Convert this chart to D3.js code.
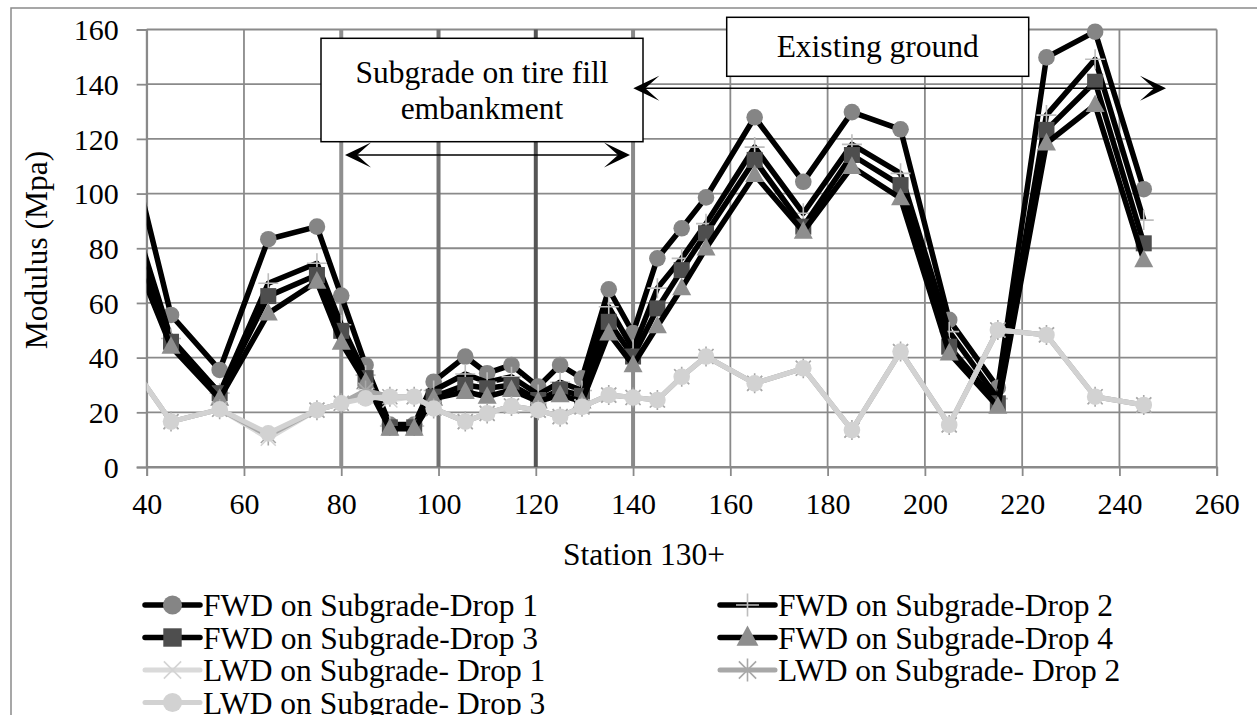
<!DOCTYPE html>
<html>
<head>
<meta charset="utf-8">
<script src="https://cdn.jsdelivr.net/npm/d3@7"></script>
<style>
  html, body { margin: 0; padding: 0; background: #fff; }
  svg { display: block; font-family: "Liberation Serif", "Times New Roman", serif; }
  svg text { font-family: "Liberation Serif", "Times New Roman", serif; }
</style>
</head>
<body>
<svg id="chart" width="1257" height="715"></svg>
<script>
// ---------- DATA ----------
const stations = [35, 45, 55, 65, 75, 80, 85, 90, 95, 99, 105.5, 110, 115, 120.5, 125, 129.5, 135, 140, 145, 150, 155, 165, 175, 185, 195, 205, 215, 225, 235, 245];
const fwdDrop1 = [128, 55.6, 35.5, 83.3, 87.9, 62.7, 37.3, 15.5, 15.5, 31.2, 40.4, 34.3, 37.3, 29.4, 37.3, 32.4, 65, 49, 76.3, 87.3, 98.6, 127.9, 104.3, 129.8, 123.5, 53.8, 29, 149.8, 159.2, 101.6];
const fwdDrop2 = [104, 47, 27, 67.2, 74.5, 52, 33.6, 15, 15, 28, 34, 31, 33, 26.5, 31, 28, 58.6, 43, 65.4, 76.3, 89, 117, 92.8, 118, 107.4, 49.5, 25, 128.7, 149.1, 90.3];
const fwdDrop3 = [94, 45.8, 27, 62.5, 70.2, 49.8, 32.5, 14.5, 14.5, 25.7, 30, 28.8, 30, 24.5, 28.2, 26, 53.1, 40.4, 58, 72, 85.5, 112.3, 87.9, 114.1, 103.1, 44, 23.3, 123.3, 140.9, 81.8];
const fwdDrop4 = [88, 44, 25, 56.2, 67.8, 45.5, 31, 14, 14, 25, 27.5, 25.7, 28.2, 24, 26.3, 24, 48.9, 37.3, 51.5, 65.4, 80, 106.8, 86.1, 109.8, 98.3, 41.6, 22.1, 118.4, 132.4, 75.7];
const lwdDrop1 = [42, 16.6, 21.1, 10.5, 20.8, 23.3, 26, 24.5, 25.7, 21.4, 16.6, 19.6, 22.3, 20.8, 18.4, 22, 26.3, 25.4, 24.5, 33, 40.4, 30.6, 36.1, 13.5, 42.2, 15.4, 50.1, 48.3, 25.7, 22.7];
const lwdDrop2 = [42, 16.6, 21.1, 11.5, 20.8, 23.3, 28, 25.7, 25.7, 21.4, 16.6, 19.6, 22.3, 20.8, 18.4, 22, 26.3, 25.4, 24.5, 33, 40.4, 30.6, 36.1, 13.5, 42.2, 15.4, 50.1, 48.3, 25.7, 22.7];
const lwdDrop3 = [42, 16.6, 21.1, 12.3, 20.8, 23.3, 25.1, 25.7, 25.7, 21.4, 16.6, 19.6, 22.3, 20.8, 18.4, 22, 26.3, 25.4, 24.5, 33, 40.4, 30.6, 36.1, 13.5, 42.2, 15.4, 50.1, 48.3, 25.7, 22.7];

const seriesNames = ["FWD on Subgrade-Drop 1", "FWD on Subgrade-Drop 2", "FWD on Subgrade-Drop 3", "FWD on Subgrade-Drop 4",
                     "LWD on Subgrade- Drop 1", "LWD on Subgrade- Drop 2", "LWD on Subgrade- Drop 3"];
const xTicks = [40, 60, 80, 100, 120, 140, 160, 180, 200, 220, 240, 260];
const yTicks = [0, 20, 40, 60, 80, 100, 120, 140, 160];
const sectionLines = [80, 100, 120, 140];
const annotationTexts = [["Subgrade on tire fill", "embankment"], ["Existing ground"]];
const xTitle = "Station 130+";
const yTitle = "Modulus (Mpa)";

// ---------- STYLE ----------
const FONT = '"Liberation Serif", "Times New Roman", serif';
const seriesStyle = [
  { values: fwdDrop1, line: "#000", lw: 5.5, marker: "circle", fill: "#858585", stroke: "#858585" },
  { values: fwdDrop2, line: "#000", lw: 5.5, marker: "plus", fill: "none", stroke: "#bdbdbd" },
  { values: fwdDrop3, line: "#000", lw: 5.5, marker: "square", fill: "#4e4e4e", stroke: "#4e4e4e" },
  { values: fwdDrop4, line: "#000", lw: 5.5, marker: "triangle", fill: "#8e8e8e", stroke: "#8e8e8e" },
  { values: lwdDrop1, line: "#dadada", lw: 5, marker: "x", fill: "none", stroke: "#d4d4d4" },
  { values: lwdDrop2, line: "#a8a8a8", lw: 5, marker: "star", fill: "none", stroke: "#a8a8a8" },
  { values: lwdDrop3, line: "#d2d2d2", lw: 5, marker: "circle", fill: "#d2d2d2", stroke: "#d2d2d2" }
];
const sectionColors = ["#8f8f8f", "#727272", "#555555", "#8a8a8a"];

const svg = d3.select("#chart");
const W = 1257, H = 715;
const plot = { left: 146.7, right: 1216.7, top: 29.5, bottom: 467 };
const x = d3.scaleLinear().domain([40, 260]).range([plot.left, plot.right]);
const y = d3.scaleLinear().domain([0, 160]).range([plot.bottom, plot.top]);
const grid = "#8a8a8a";

// outer chart border (extends beyond the photo on right/bottom)
svg.append("rect").attr("x", 11).attr("y", 8).attr("width", 1300).attr("height", 800)
  .attr("fill", "#fff").attr("stroke", grid).attr("stroke-width", 1.5);

// gridlines
svg.append("g").selectAll("line.h").data(yTicks).join("line")
  .attr("x1", plot.left).attr("x2", plot.right)
  .attr("y1", d => y(d)).attr("y2", d => y(d))
  .attr("stroke", grid).attr("stroke-width", 1.8);
svg.append("g").selectAll("line.v").data(xTicks).join("line")
  .attr("x1", d => x(d)).attr("x2", d => x(d))
  .attr("y1", plot.top).attr("y2", plot.bottom)
  .attr("stroke", grid).attr("stroke-width", 1.8);

// axes
const xAxis = svg.append("g").attr("transform", `translate(0,${plot.bottom})`)
  .call(d3.axisBottom(x).tickValues(xTicks).tickSize(9).tickPadding(17).tickFormat(d3.format("d")));
const yAxis = svg.append("g").attr("transform", `translate(${plot.left},0)`)
  .call(d3.axisLeft(y).tickValues(yTicks).tickSize(10).tickPadding(18).tickFormat(d3.format("d")));
[xAxis, yAxis].forEach(a => {
  a.attr("font-family", FONT);
  a.select(".domain").attr("stroke", grid).attr("stroke-width", 1.8);
  a.selectAll(".tick line").attr("stroke", grid).attr("stroke-width", 1.8);
  a.selectAll(".tick text").attr("fill", "#000").attr("font-size", 30).attr("font-family", FONT);
});
xAxis.selectAll(".tick text").attr("dy", "0.71em");
yAxis.selectAll(".tick text").attr("dy", "0.34em");

// axis titles
svg.append("text").attr("x", 644).attr("y", 565).attr("text-anchor", "middle")
  .attr("font-family", FONT).attr("font-size", 31.5).text(xTitle);
svg.append("text").attr("transform", "translate(47,250) rotate(-90)").attr("text-anchor", "middle")
  .attr("font-family", FONT).attr("font-size", 31.5).text(yTitle);

// section vertical lines
svg.append("g").selectAll("line").data(sectionLines).join("line")
  .attr("x1", d => x(d)).attr("x2", d => x(d))
  .attr("y1", y(0)).attr("y2", y(160))
  .attr("stroke", (d, i) => sectionColors[i]).attr("stroke-width", 4);

// clip
svg.append("clipPath").attr("id", "clip").append("rect")
  .attr("x", plot.left).attr("y", 0).attr("width", W).attr("height", H);

function drawMarker(g, type, cx, cy, st, s) {
  s = s || 1;
  if (type === "circle") {
    g.append("circle").attr("cx", cx).attr("cy", cy).attr("r", 8.3 * s).attr("fill", st.fill);
  } else if (type === "square") {
    g.append("rect").attr("x", cx - 8 * s).attr("y", cy - 8 * s).attr("width", 16 * s).attr("height", 16 * s).attr("fill", st.fill);
  } else if (type === "triangle") {
    const h = 9.5 * s;
    g.append("path").attr("d", `M${cx},${cy - h - 1}L${cx + h},${cy + h * 0.75}L${cx - h},${cy + h * 0.75}Z`).attr("fill", st.fill);
  } else if (type === "plus") {
    const h = 10 * s;
    g.append("path").attr("d", `M${cx - h},${cy}H${cx + h}M${cx},${cy - h}V${cy + h}`)
      .attr("stroke", st.stroke).attr("stroke-width", 1.6).attr("fill", "none");
  } else if (type === "x") {
    const h = 7.5 * s;
    g.append("path").attr("d", `M${cx - h},${cy - h}L${cx + h},${cy + h}M${cx - h},${cy + h}L${cx + h},${cy - h}`)
      .attr("stroke", st.stroke).attr("stroke-width", 1.6).attr("fill", "none");
  } else if (type === "star") {
    const h = 10 * s, k = 7.5 * s;
    g.append("path").attr("d", `M${cx - k},${cy - k}L${cx + k},${cy + k}M${cx - k},${cy + k}L${cx + k},${cy - k}M${cx},${cy - h}V${cy + h}`)
      .attr("stroke", st.stroke).attr("stroke-width", 1.6).attr("fill", "none");
  }
}

const dataG = svg.append("g").attr("clip-path", "url(#clip)");
const lineGen = d3.line().x(d => x(d[0])).y(d => y(d[1]));
seriesStyle.forEach((st, si) => {
  const pts = stations.map((s, i) => [s, st.values[i]]);
  const g = dataG.append("g");
  g.append("path").attr("d", lineGen(pts)).attr("fill", "none")
    .attr("stroke", st.line).attr("stroke-width", st.lw).attr("stroke-linejoin", "round");
  pts.forEach(p => drawMarker(g, st.marker, x(p[0]), y(p[1]), st));
});

// annotations
const ann = svg.append("g");
function box(x0, y0, x1, y1, lines, cy, lh) {
  ann.append("rect").attr("x", x0).attr("y", y0).attr("width", x1 - x0).attr("height", y1 - y0)
    .attr("fill", "#fff").attr("stroke", "#000").attr("stroke-width", 1.5);
  lines.forEach((t, i) => {
    ann.append("text").attr("x", (x0 + x1) / 2).attr("y", cy + i * lh).attr("dy", "0.35em")
      .attr("text-anchor", "middle").attr("font-family", FONT).attr("font-size", 31.5).text(t);
  });
}
box(321, 38.3, 643, 141.7, annotationTexts[0], 72, 36);
box(726.7, 17.3, 1028.7, 76.3, annotationTexts[1], 46, 36);

function arrowHead(tx, ty, dir) {
  const L = 26, Wd = 12.5, N = 12;
  ann.append("path")
    .attr("d", `M${tx},${ty}L${tx - dir * L},${ty - Wd}L${tx - dir * N},${ty}L${tx - dir * L},${ty + Wd}Z`)
    .attr("fill", "#000");
}
function dblArrow(xa, xb, yy) {
  ann.append("line").attr("x1", xa + 10).attr("x2", xb - 10).attr("y1", yy).attr("y2", yy)
    .attr("stroke", "#000").attr("stroke-width", 1.6);
  arrowHead(xa, yy, -1);
  arrowHead(xb, yy, 1);
}
dblArrow(345, 630, 155);
dblArrow(633.3, 1166, 88.3);

// legend
const leg = svg.append("g");
const legPos = [
  [145, 605], [720, 605], [145, 637.5], [720, 637.5], [145, 670], [720, 670], [145, 702.5]
];
seriesStyle.forEach((st, i) => {
  const [lx, ly] = legPos[i];
  const g = leg.append("g");
  g.append("line").attr("x1", lx).attr("x2", lx + 55).attr("y1", ly).attr("y2", ly)
    .attr("stroke", st.line).attr("stroke-width", st.lw).attr("stroke-linecap", "round");
  drawMarker(g, st.marker, lx + 27.5, ly, st, 1.15);
  g.append("text").attr("x", lx + 58).attr("y", ly).attr("dy", "0.35em")
    .attr("font-family", FONT).attr("font-size", 31.5).text(seriesNames[i]);
});
</script>
</body>
</html>
